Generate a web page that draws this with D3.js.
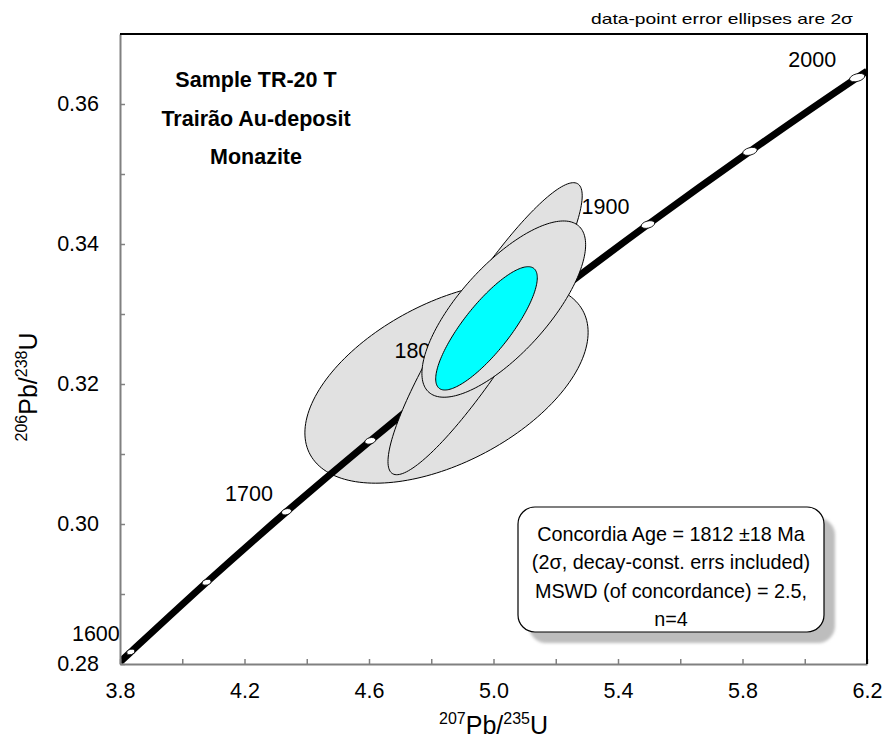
<!DOCTYPE html>
<html>
<head>
<meta charset="utf-8">
<script src="https://cdn.jsdelivr.net/npm/d3@7"></script>
<style>
  body { margin: 0; background: #fff; }
  text { font-family: Arial, "Liberation Sans", sans-serif; }
</style>
</head>
<body>
<svg id="chart" width="885" height="744"></svg>
<script>
// Axis ticks
const xTicks = [3.8, 4.0, 4.2, 4.4, 4.6, 4.8, 5.0, 5.2, 5.4, 5.6, 5.8, 6.0, 6.2];
const xTickLabels = ["3.8", "4.2", "4.6", "5.0", "5.4", "5.8", "6.2"];
const yTicks = [0.28, 0.29, 0.30, 0.31, 0.32, 0.33, 0.34, 0.35, 0.36];
const yTickLabels = ["0.28", "0.30", "0.32", "0.34", "0.36"];

// Concordia age markers (Ma) and their ratios
const concAge = [1600, 1650, 1700, 1750, 1800, 1850, 1900, 1950, 2000];
const concX = [3.8346, 4.0784, 4.3348, 4.6040, 4.8869, 5.1840, 5.4962, 5.8240, 6.1684];
const concY = [0.28172, 0.29168, 0.30175, 0.31188, 0.32210, 0.33240, 0.34278, 0.35323, 0.36377];
// where the curve meets the frame
const concEndX = [3.80, 6.20];
const concEndY = [0.28029, 0.36469];
const labeledAges = [1600, 1700, 1800, 1900, 2000];

// Data-point error ellipses (2 sigma): centre, half-widths, correlation
const ellX = [4.849, 4.973, 5.033];
const ellSx = [0.455, 0.312, 0.263];
const ellY = [0.3202, 0.3279, 0.3307];
const ellSy = [0.01437, 0.02086, 0.01259];
const ellRho = [0.50, 0.91, 0.73];

// Concordia age ellipse
const ageEllX = 4.9775, ageEllSx = 0.1632, ageEllY = 0.32795, ageEllSy = 0.00881, ageEllRho = 0.82;

const titleLines = ["Sample  TR-20 T", "Trairão Au-deposit", "Monazite"];
const resultLines = ["Concordia  Age = 1812 ±18 Ma", "(2σ, decay-const.  errs included)",
                     "MSWD (of concordance) = 2.5,", "n=4"];

// Setup
const svg = d3.select("#chart");
const plotL = 120, plotR = 867, plotT = 34, plotB = 664;

const x = d3.scaleLinear().domain([3.8, 6.2]).range([plotL, plotR]);
const y = d3.scaleLinear().domain([0.28, 0.37]).range([plotB, plotT]);

svg.append("rect").attr("width", 885).attr("height", 744).attr("fill", "#fff");

const defs = svg.append("defs");
defs.append("clipPath").attr("id", "plotClip")
  .append("rect").attr("x", plotL).attr("y", plotT).attr("width", plotR - plotL).attr("height", plotB - plotT);

const ellipsePts = function(cx, a, cy, b, rho) {
  const s = Math.sqrt(1 - rho * rho);
  return d3.range(0, 180).map(i => {
    const t = i / 180 * 2 * Math.PI;
    return [cx + a * Math.cos(t), cy + b * (rho * Math.cos(t) + s * Math.sin(t))];
  });
};
const ellLine = d3.line().x(d => x(d[0])).y(d => y(d[1])).curve(d3.curveLinearClosed);

// layers: big ellipse + concordia, then labels, then the other ellipses
const lowerLayer = svg.append("g").attr("clip-path", "url(#plotClip)");
const labelLayer = svg.append("g");
const upperLayer = svg.append("g").attr("clip-path", "url(#plotClip)");

const drawEllipse = function(layer, i) {
  layer.append("path")
    .attr("d", ellLine(ellipsePts(ellX[i], ellSx[i], ellY[i], ellSy[i], ellRho[i])))
    .attr("fill", "#e1e1e1")
    .attr("stroke", "#000")
    .attr("stroke-width", 1);
};
drawEllipse(lowerLayer, 0);

// Concordia curve
const concPts = [[concEndX[0], concEndY[0]]]
  .concat(concX.map((v, i) => [v, concY[i]]))
  .concat([[concEndX[1], concEndY[1]]]);
lowerLayer.append("path")
  .attr("d", d3.line().x(d => x(d[0])).y(d => y(d[1])).curve(d3.curveCatmullRom)(concPts))
  .attr("fill", "none")
  .attr("stroke", "#000")
  .attr("stroke-width", 7);

// age markers
concAge.forEach((age, i) => {
  const f = (age - 1600) / 400;
  lowerLayer.append("ellipse")
    .attr("transform", `translate(${x(concX[i])},${y(concY[i])}) rotate(-15)`)
    .attr("rx", 4.2 + 3.6 * f)
    .attr("ry", 2.7 + 1.1 * f)
    .attr("fill", "#fff")
    .attr("stroke", "#000")
    .attr("stroke-width", 0.8);
});

// age labels
labeledAges.forEach(age => {
  const i = concAge.indexOf(age);
  labelLayer.append("text")
    .attr("x", x(concX[i]) - (11 + 10 * (age - 1600) / 400))
    .attr("y", y(concY[i]) - 11)
    .attr("text-anchor", "end")
    .style("font-size", "21.5px")
    .text(age);
});

drawEllipse(upperLayer, 1);
drawEllipse(upperLayer, 2);

upperLayer.append("path")
  .attr("d", ellLine(ellipsePts(ageEllX, ageEllSx, ageEllY, ageEllSy, ageEllRho)))
  .attr("fill", "#00ffff")
  .attr("stroke", "#000")
  .attr("stroke-width", 1);

// Axes
const xaxis = d3.axisBottom(x)
  .tickValues(xTicks)
  .tickSizeInner(-5)
  .tickSizeOuter(0)
  .tickPadding(19)
  .tickFormat(d => { const s = d.toFixed(1); return xTickLabels.includes(s) ? s : ""; });
const yaxis = d3.axisLeft(y)
  .tickValues(yTicks)
  .tickSizeInner(-5)
  .tickSizeOuter(0)
  .tickPadding(21)
  .tickFormat(d => { const s = d.toFixed(2); return yTickLabels.includes(s) ? s : ""; });

const gx = svg.append("g").attr("transform", `translate(0,${plotB})`).call(xaxis);
const gy = svg.append("g").attr("transform", `translate(${plotL},0)`).call(yaxis);
[gx, gy].forEach(g => {
  g.select(".domain").attr("stroke", "#808080").attr("stroke-width", 2);
  g.selectAll(".tick line").attr("stroke", "#808080").attr("stroke-width", 1.5);
  g.selectAll(".tick text").attr("fill", "#000").style("font-size", "21.5px")
    .style("font-family", "Arial, 'Liberation Sans', sans-serif");
});

// frame top and right
svg.append("path")
  .attr("d", `M${plotL},${plotT}H${plotR}V${plotB}`)
  .attr("fill", "none")
  .attr("stroke", "#000")
  .attr("stroke-width", 2);

// Axis titles
const xTitle = svg.append("text")
  .attr("x", (plotL + plotR) / 2)
  .attr("y", 734)
  .attr("text-anchor", "middle")
  .style("font-size", "25px");
xTitle.append("tspan").attr("dy", -10).style("font-size", "16px").text("207");
xTitle.append("tspan").attr("dy", 10).text("Pb/");
xTitle.append("tspan").attr("dy", -10).style("font-size", "16px").text("235");
xTitle.append("tspan").attr("dy", 10).text("U");

const yTitle = svg.append("text")
  .attr("transform", "translate(37,387) rotate(-90)")
  .attr("text-anchor", "middle")
  .style("font-size", "25px");
yTitle.append("tspan").attr("dy", -10).style("font-size", "16px").text("206");
yTitle.append("tspan").attr("dy", 10).text("Pb/");
yTitle.append("tspan").attr("dy", -10).style("font-size", "16px").text("238");
yTitle.append("tspan").attr("dy", 10).text("U");

// Sample title
svg.selectAll(".title")
  .data(titleLines)
  .enter()
  .append("text")
  .attr("class", "title")
  .attr("x", 256)
  .attr("y", (d, i) => 87 + i * 38.5)
  .attr("text-anchor", "middle")
  .style("font-size", "21.5px")
  .style("font-weight", "bold")
  .text(d => d);

// Note
svg.append("text")
  .attr("x", 853)
  .attr("y", 24)
  .attr("text-anchor", "end")
  .attr("textLength", 262)
  .attr("lengthAdjust", "spacingAndGlyphs")
  .style("font-size", "15px")
  .text("data-point error ellipses are 2σ");

// Result box with shadow
const blur = defs.append("filter").attr("id", "soft");
blur.append("feGaussianBlur").attr("stdDeviation", 1.5);

const box = { x: 518, y: 507, w: 306, h: 125 };
svg.append("rect")
  .attr("x", box.x + 11).attr("y", box.y + 11)
  .attr("width", box.w).attr("height", box.h)
  .attr("rx", 17)
  .attr("fill", "#bdbdbd")
  .attr("filter", "url(#soft)");
svg.append("rect")
  .attr("x", box.x).attr("y", box.y)
  .attr("width", box.w).attr("height", box.h)
  .attr("rx", 17)
  .attr("fill", "#fff")
  .attr("stroke", "#000")
  .attr("stroke-width", 1.2);
svg.selectAll(".result")
  .data(resultLines)
  .enter()
  .append("text")
  .attr("class", "result")
  .attr("x", box.x + box.w / 2)
  .attr("y", (d, i) => 541 + i * 28.4)
  .attr("text-anchor", "middle")
  .style("font-size", "19.8px")
  .text(d => d);
</script>
</body>
</html>
